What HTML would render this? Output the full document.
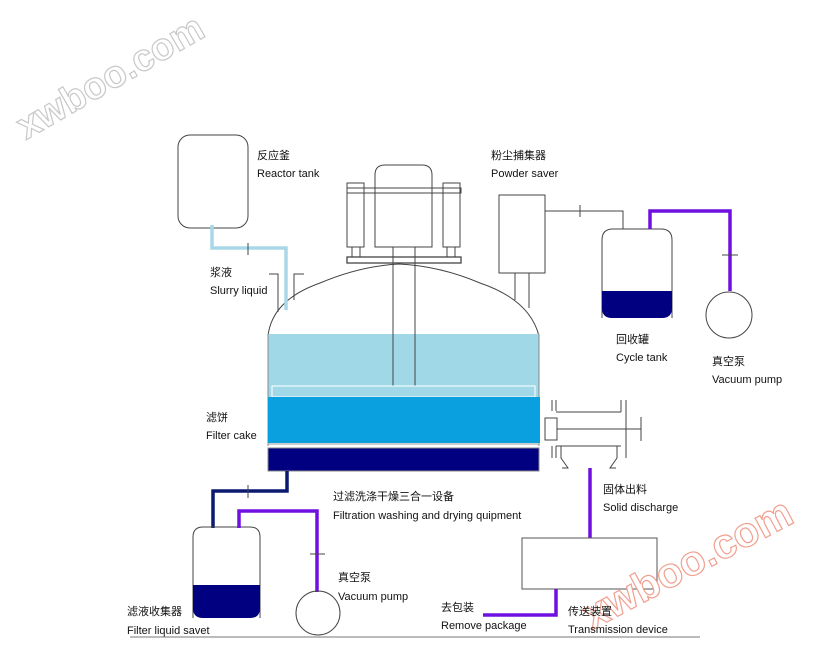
<!DOCTYPE html>
<html><head><meta charset="utf-8"><style>
html,body{margin:0;padding:0;background:#fff;}
svg{display:block;}
text{font-family:"Liberation Sans","Noto Sans CJK SC",sans-serif;font-size:11px;fill:#111;}
.wm{font-family:"Liberation Sans",sans-serif;font-size:38px;font-weight:bold;fill:#fff;stroke-width:1.2;}
</style></head><body>
<svg width="820" height="656" viewBox="0 0 820 656" xmlns="http://www.w3.org/2000/svg">
<rect width="820" height="656" fill="#fff"/>
<text class="wm" x="0" y="0" stroke="#c8c8c8" transform="translate(26,140) rotate(-30)">xwboo.com</text>

<g fill="none" stroke="#444" stroke-width="1">
<rect x="178" y="135" width="70" height="93" rx="12"/>
<path d="M269 274 H278 V312 M304 274 H294 V300"/>
<path d="M375 247 V175 Q375 165 385 165 H422 Q432 165 432 175 V247 Z"/>
<rect x="347" y="188" width="114" height="5"/>
<rect x="347" y="183" width="17" height="64"/>
<rect x="443" y="183" width="17" height="64"/>
<rect x="352" y="247" width="8" height="10"/>
<rect x="447" y="247" width="8" height="10"/>
<rect x="347" y="257" width="114" height="6" stroke-width="1.3"/>
<path d="M393 247 V263 M415 247 V263"/>
<path d="M268 336 Q272 300 320 283 Q360 266 399 264 Q440 266 480 283 Q530 300 539 336"/>
<rect x="499" y="195" width="46" height="78"/>
<path d="M515 273 V300 M529 273 V308"/>
<path d="M545 211 H623 V229 M580 205 V217"/>
</g>
<path d="M212 225 V248 H286 V310" fill="none" stroke="#a8d8e8" stroke-width="3.5"/>
<path d="M248 243 V255" stroke="#444"/>
<rect x="268" y="334" width="271" height="63" fill="#a0d8e8"/>
<path d="M268 334 V446 M539 334 V446" stroke="#888" fill="none"/>
<path d="M393 263 V388 M415 263 V388" stroke="#444" fill="none"/>
<rect x="272" y="386" width="263" height="11" fill="#a0d8e8" stroke="#fff" stroke-width="1"/>
<rect x="268" y="397" width="272" height="46" fill="#0aa0e0"/>
<path d="M268 444 H539" stroke="#999"/>
<rect x="268" y="448" width="271" height="23" fill="#000080" stroke="#888"/>
<g fill="none" stroke="#444">
<path d="M552 400 V411 M556 400 V411 M552 446 V458 M556 446 V458"/>
<path d="M556 412 H621 M621 400 V412 M626 400 V458"/>
<rect x="545" y="418" width="12" height="22"/>
<path d="M557 429 H641 M641 417 V441"/>
<path d="M556 446 H621 M561 446 V458 L568 468 H562 M617 446 V458 L610 468 H616"/>
</g>
<path d="M602 318 V240 Q602 229 613 229 H661 Q672 229 672 240 V318" fill="none" stroke="#444"/>
<path d="M602 291 H672 V308 Q672 318 662 318 H612 Q602 318 602 308 Z" fill="#000080"/>
<path d="M650 229 V211 H730 V291" fill="none" stroke="#7010e0" stroke-width="3.5"/>
<path d="M722 255 H738" stroke="#444"/>
<circle cx="729" cy="315" r="23" fill="none" stroke="#444"/>
<path d="M590 468 V539" stroke="#7010e0" stroke-width="3.5"/>
<rect x="522" y="538" width="135" height="51" fill="#fff" stroke="#555"/>
<path d="M556 589 V615 H483" fill="none" stroke="#7010e0" stroke-width="3.5"/>
<path d="M287 471 V491 H213 V528" fill="none" stroke="#0a1a70" stroke-width="3.5"/>
<path d="M248 485 V498" stroke="#444"/>
<path d="M193 618 V537 Q193 527 203 527 H250 Q260 527 260 537 V618" fill="none" stroke="#444"/>
<path d="M193 585 H260 V608 Q260 618 250 618 H203 Q193 618 193 608 Z" fill="#000080"/>
<path d="M239 528 V511 H317 V592" fill="none" stroke="#7010e0" stroke-width="3.5"/>
<path d="M310 554 H325" stroke="#444"/>
<circle cx="318" cy="613" r="22" fill="none" stroke="#444"/>
<path d="M130 637 H700" stroke="#777"/>
<text class="wm" x="0" y="0" stroke="#f0a090" style="font-size:42px" transform="translate(592,630) rotate(-28)">xwboo.com</text>
<text x="257" y="159">反应釜</text><text x="257" y="177">Reactor tank</text>
<text x="210" y="276">浆液</text><text x="210" y="294">Slurry liquid</text>
<text x="491" y="159">粉尘捕集器</text><text x="491" y="177">Powder saver</text>
<text x="616" y="343">回收罐</text><text x="616" y="361">Cycle tank</text>
<text x="712" y="365">真空泵</text><text x="712" y="383">Vacuum pump</text>
<text x="206" y="421">滤饼</text><text x="206" y="439">Filter cake</text>
<text x="333" y="500">过滤洗涤干燥三合一设备</text><text x="333" y="519">Filtration washing and drying quipment</text>
<text x="603" y="493">固体出料</text><text x="603" y="511">Solid discharge</text>
<text x="338" y="581">真空泵</text><text x="338" y="600">Vacuum pump</text>
<text x="127" y="615">滤液收集器</text><text x="127" y="634">Filter liquid savet</text>
<text x="441" y="611">去包装</text><text x="441" y="629">Remove package</text>
<text x="568" y="615">传送装置</text><text x="568" y="633">Transmission device</text>
</svg>
</body></html>
